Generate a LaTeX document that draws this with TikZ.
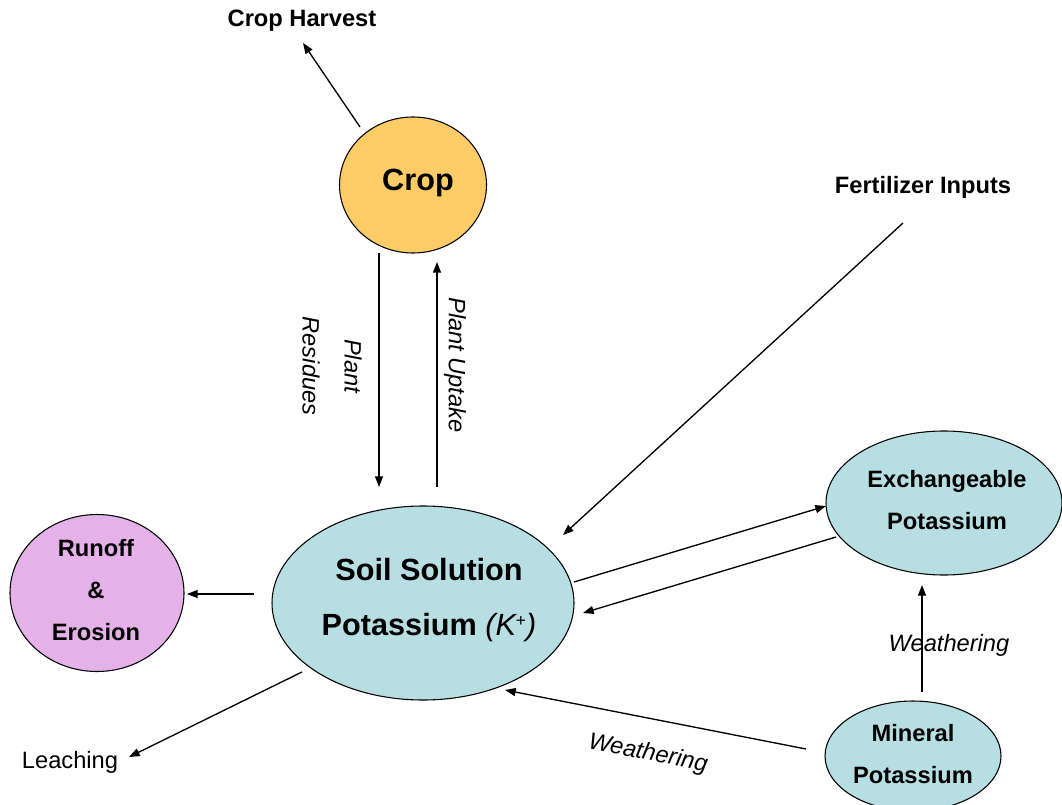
\documentclass[tikz,border=0pt]{standalone}
\usepackage{fontspec}
\setmainfont{Liberation Sans}
\usetikzlibrary{shapes.geometric,arrows.meta}
\definecolor{soilblue}{RGB}{183,222,226}
\definecolor{cropor}{RGB}{254,204,102}
\definecolor{runpink}{RGB}{228,177,232}
\begin{document}
\begin{tikzpicture}[x=0.75pt,y=-0.75pt,
  pool/.style={ellipse, draw=black, line width=0.8pt, inner sep=0pt},
  big/.style={font=\fontsize{23}{41}\selectfont\bfseries, align=center},
  lbl/.style={font=\fontsize{17.75}{31.5}\selectfont\bfseries, align=center},
  plain/.style={font=\fontsize{17.75}{31.5}\selectfont, align=center},
  itl/.style={font=\fontsize{17.75}{31.5}\selectfont\itshape, align=center},
  flow/.style={line width=1pt, -{Triangle[length=8pt,width=6pt]}}]
\useasboundingbox (0,0) rectangle (1062,805);

% pools
\node[pool, fill=cropor, minimum width=110.25pt, minimum height=102pt] (crop) at (413,185) {};
\node[big] (croptxt) at (418,183) {Crop};
\node[pool, fill=soilblue, minimum width=226.5pt, minimum height=145.5pt] (soil) at (423,603) {};
\node[big] (soiltxt) at (429,600) {Soil Solution\\Potassium {\mdseries\itshape (K\raisebox{0.55ex}{\upshape\fontsize{13}{13}\selectfont +})}};
\node[pool, fill=soilblue, minimum width=177pt, minimum height=108pt] (exch) at (944,503) {};
\node[lbl] (exchtxt) at (947,500) {Exchangeable\\Potassium};
\node[pool, fill=soilblue, minimum width=132pt, minimum height=82.5pt] (mineral) at (913,756) {};
\node[lbl] (mintxt) at (913,754) {Mineral\\Potassium};
\node[pool, fill=runpink, minimum width=130.5pt, minimum height=117.75pt] (runoff) at (97,593) {};
\node[lbl] (runtxt) at (96,590) {Runoff\\\&\\Erosion};

% free labels
\node[lbl] (harvest) at (302,21) {Crop Harvest};
\node[lbl] (fert) at (923,187) {Fertilizer Inputs};
\node[plain] (leach) at (70,762) {Leaching};

% connector ends
\coordinate (cropNW) at (360,127);
\coordinate (harvestS) at (303,43);
\coordinate (cropS1) at (379,253);
\coordinate (soilN1) at (379,487);
\coordinate (soilN2) at (437,487);
\coordinate (cropS2) at (437,262);
\coordinate (fertS) at (903,223);
\coordinate (soilNE) at (563,535);
\coordinate (soilE1) at (574,582);
\coordinate (exchW1) at (826,506);
\coordinate (exchW2) at (836,537);
\coordinate (soilE2) at (583,613);
\coordinate (minN) at (922,692);
\coordinate (exchS) at (922,585);
\coordinate (minW) at (806,749);
\coordinate (soilSE) at (505,690);
\coordinate (soilW) at (254,594);
\coordinate (runE) at (187,594);
\coordinate (soilSW) at (302,672);
\coordinate (leachE) at (129,757);

% flows
\draw[flow] (cropNW) -- (harvestS);
\draw[flow] (cropS1) -- (soilN1);
\draw[flow] (soilN2) -- (cropS2);
\draw[flow] (fertS) -- (soilNE);
\draw[flow] (soilE1) -- (exchW1);
\draw[flow] (exchW2) -- (soilE2);
\draw[flow] (minN) -- (exchS);
\draw[flow] (minW) -- (soilSE);
\draw[flow] (soilW) -- (runE);
\draw[flow] (soilSW) -- (leachE);

% flow labels
\node[itl, rotate=-90] (uptake) at (455,365) {Plant Uptake};
\node[itl, rotate=-90] (residues) at (332,366) {Plant\\Residues};
\node[itl] (weath1) at (949,645) {Weathering};
\node[itl, rotate=-11] (weath2) at (648,754) {Weathering};
\end{tikzpicture}
\end{document}
